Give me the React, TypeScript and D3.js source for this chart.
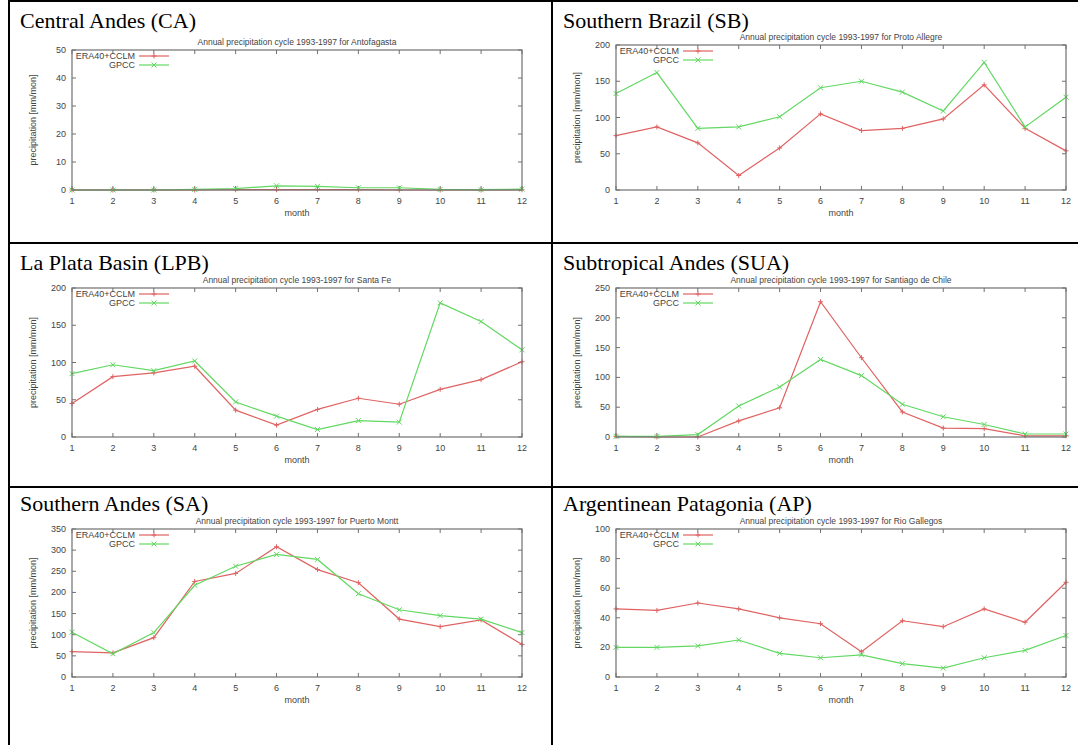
import React from "react";
import * as d3 from "d3";

const months = [1, 2, 3, 4, 5, 6, 7, 8, 9, 10, 11, 12];
const panelTitles = [
  "Central Andes (CA)",
  "Southern Brazil (SB)",
  "La Plata Basin (LPB)",
  "Subtropical Andes (SUA)",
  "Southern Andes (SA)",
  "Argentinean Patagonia (AP)",
];
const stations = ["Antofagasta", "Proto Allegre", "Santa Fe", "Santiago de Chile", "Puerto Montt", "Rio Gallegos"];
const yMaxes = [50, 200, 200, 250, 350, 100];
const yTickSteps = [10, 50, 50, 50, 50, 20];
const seriesNames = ["ERA40+CCLM", "GPCC"];

const eraCA = [0, 0, 0, 0, 0.1, 0.1, 0.1, 0.1, 0, 0, 0, 0.1];
const gpccCA = [0, 0, 0, 0.2, 0.5, 1.5, 1.3, 0.8, 0.8, 0.2, 0.1, 0.3];
const eraSB = [75, 87, 65, 20, 58, 105, 82, 85, 98, 145, 85, 54];
const gpccSB = [133, 162, 85, 87, 101, 141, 150, 135, 109, 176, 87, 128];
const eraLPB = [45, 81, 86, 95, 36, 16, 37, 52, 44, 64, 77, 101];
const gpccLPB = [85, 97, 89, 102, 47, 28, 10, 22, 20, 180, 155, 117];
const eraSUA = [1, 0, 0, 27, 49, 227, 133, 42, 15, 14, 2, 2];
const gpccSUA = [1, 1, 4, 52, 84, 130, 103, 55, 34, 21, 5, 5];
const eraSA = [60, 57, 93, 226, 245, 308, 254, 223, 137, 119, 135, 77];
const gpccSA = [106, 55, 105, 217, 262, 290, 278, 197, 159, 145, 137, 105];
const eraAP = [46, 45, 50, 46, 40, 36, 17, 38, 34, 46, 37, 64];
const gpccAP = [20, 20, 21, 25, 16, 13, 15, 9, 6, 13, 18, 28];

const eraSeries = [eraCA, eraSB, eraLPB, eraSUA, eraSA, eraAP];
const gpccSeries = [gpccCA, gpccSB, gpccLPB, gpccSUA, gpccSA, gpccAP];

const W = 1078;
const H = 745;
const rowTops = [1, 243, 487];
const titleBaselines = [28, 270, 511];
const colLefts = [9, 552];
const plotLefts = [72, 616];
const plotTops = [50, 45, 288, 288, 529, 529];
const plotBottoms = [190, 190, 437, 437, 677, 677];
const RED = "#e06262";
const GREEN = "#62d862";
const AXIS = "#707070";
const TXT = "#444";
const FONT = "'Liberation Sans', Arial, sans-serif";

function Panel({ idx }: { idx: number }) {
  const r = Math.floor(idx / 2);
  const c = idx % 2;
  const plotLeft = plotLefts[c];
  const plotW = 450;
  const plotTop = plotTops[idx];
  const plotBottom = plotBottoms[idx];
  const x = d3.scaleLinear().domain([1, 12]).range([plotLeft, plotLeft + plotW]);
  const y = d3.scaleLinear().domain([0, yMaxes[idx]]).range([plotBottom, plotTop]);
  const yTicks = d3.range(0, yMaxes[idx] + 0.001, yTickSteps[idx]);
  const line = d3
    .line<number>()
    .x((_, i) => x(months[i]))
    .y((d) => y(d));
  const tl = 4;
  const era = eraSeries[idx];
  const gp = gpccSeries[idx];
  const ms = 2.5;
  const legX = plotLeft + 67;
  const l1 = plotTop + 6;
  const l2 = plotTop + 15;
  return (
    <g>
      <text x={colLefts[c] + 11} y={titleBaselines[r]} fontFamily="'Liberation Serif', 'Times New Roman', serif" fontSize={22} fill="#000">
        {panelTitles[idx]}
      </text>
      <text x={plotLeft + plotW / 2} y={plotTop - 5} textAnchor="middle" fontFamily={FONT} fontSize={8.5} fill={TXT}>
        {`Annual precipitation cycle 1993-1997 for ${stations[idx]}`}
      </text>
      {yTicks.map((t) => (
        <g key={"y" + t}>
          <line x1={plotLeft} x2={plotLeft + tl} y1={y(t)} y2={y(t)} stroke={AXIS} />
          <line x1={plotLeft + plotW} x2={plotLeft + plotW - tl} y1={y(t)} y2={y(t)} stroke={AXIS} />
          <text x={plotLeft - 6} y={y(t) + 3} textAnchor="end" fontFamily={FONT} fontSize={9} fill={TXT}>
            {t}
          </text>
        </g>
      ))}
      {months.map((m) => (
        <g key={"x" + m}>
          <line x1={x(m)} x2={x(m)} y1={plotBottom} y2={plotBottom - tl} stroke={AXIS} />
          <line x1={x(m)} x2={x(m)} y1={plotTop} y2={plotTop + tl} stroke={AXIS} />
          <text x={x(m)} y={plotBottom + 14} textAnchor="middle" fontFamily={FONT} fontSize={9} fill={TXT}>
            {m}
          </text>
        </g>
      ))}
      <text x={plotLeft + plotW / 2} y={plotBottom + 26} textAnchor="middle" fontFamily={FONT} fontSize={9} fill={TXT}>
        month
      </text>
      <text
        transform={`translate(${plotLeft - 36},${(plotTop + plotBottom) / 2}) rotate(-90)`}
        textAnchor="middle"
        fontFamily={FONT}
        fontSize={9}
        fill={TXT}
      >
        precipitation [mm/mon]
      </text>
      <text x={legX - 4} y={l1 + 3} textAnchor="end" fontFamily={FONT} fontSize={9} fill={TXT}>
        {seriesNames[0]}
      </text>
      <line x1={legX} x2={legX + 30} y1={l1} y2={l1} stroke={RED} strokeWidth={1.2} />
      <path d={`M${legX + 15 - ms},${l1}h${2 * ms}M${legX + 15},${l1 - ms}v${2 * ms}`} stroke={RED} />
      <text x={legX - 4} y={l2 + 3} textAnchor="end" fontFamily={FONT} fontSize={9} fill={TXT}>
        {seriesNames[1]}
      </text>
      <line x1={legX} x2={legX + 30} y1={l2} y2={l2} stroke={GREEN} strokeWidth={1.2} />
      <path
        d={`M${legX + 15 - ms},${l2 - ms}l${2 * ms},${2 * ms}M${legX + 15 - ms},${l2 + ms}l${2 * ms},${-2 * ms}`}
        stroke={GREEN}
      />
      <path d={line(era) || ""} fill="none" stroke={RED} strokeWidth={1.2} />
      {era.map((v, i) => (
        <path
          key={"e" + i}
          d={`M${x(months[i]) - ms},${y(v)}h${2 * ms}M${x(months[i])},${y(v) - ms}v${2 * ms}`}
          stroke={RED}
        />
      ))}
      <path d={line(gp) || ""} fill="none" stroke={GREEN} strokeWidth={1.2} />
      {gp.map((v, i) => (
        <path
          key={"g" + i}
          d={`M${x(months[i]) - ms},${y(v) - ms}l${2 * ms},${2 * ms}M${x(months[i]) - ms},${y(v) + ms}l${2 * ms},${-2 * ms}`}
          stroke={GREEN}
        />
      ))}
      <rect x={plotLeft} y={plotTop} width={plotW} height={plotBottom - plotTop} fill="none" stroke={AXIS} strokeWidth={1.2} />
    </g>
  );
}

export default function App() {
  return (
    <svg width={W} height={H} style={{ position: "absolute", left: 0, top: 0, background: "#fff" }}>
      <rect x={0} y={0} width={W} height={H} fill="#fff" />
      {[0, 1, 2, 3, 4, 5].map((i) => (
        <Panel key={i} idx={i} />
      ))}
      <g stroke="#000" strokeWidth={2}>
        <line x1={colLefts[0]} x2={W} y1={rowTops[0]} y2={rowTops[0]} />
        <line x1={colLefts[0]} x2={W} y1={rowTops[1]} y2={rowTops[1]} />
        <line x1={colLefts[0]} x2={W} y1={rowTops[2]} y2={rowTops[2]} />
        <line x1={colLefts[0]} x2={colLefts[0]} y1={0} y2={H} />
        <line x1={colLefts[1]} x2={colLefts[1]} y1={0} y2={H} />
      </g>
    </svg>
  );
}
